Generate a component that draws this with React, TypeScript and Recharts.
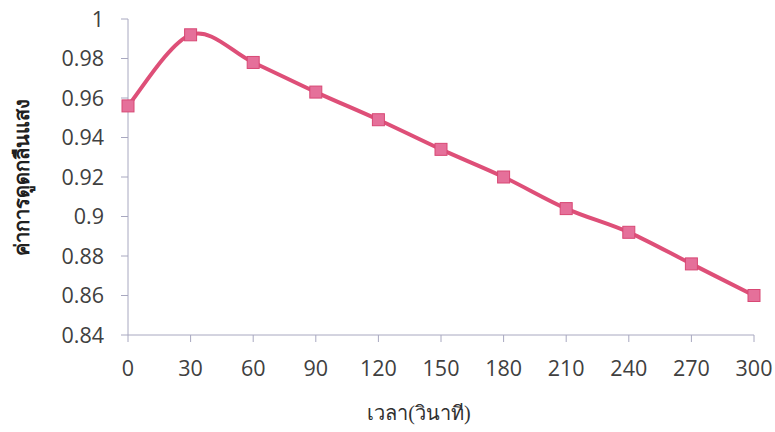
import React from "react";
import { LineChart, Line, XAxis, YAxis, Label } from "recharts";

const times = [0, 30, 60, 90, 120, 150, 180, 210, 240, 270, 300];
const absorbance = [0.956, 0.992, 0.978, 0.963, 0.949, 0.934, 0.92, 0.904, 0.892, 0.876, 0.86];
const xTicks = [0, 30, 60, 90, 120, 150, 180, 210, 240, 270, 300];
const yTicks = [0.84, 0.86, 0.88, 0.9, 0.92, 0.94, 0.96, 0.98, 1];

const data = times.map((t, i) => ({ t, v: absorbance[i] }));

const LINE = "#de4f78";

// Catmull-Rom style smoothing (like spreadsheet smoothed lines)
const smoothCurve: any = (context: any) => {
  let pts: number[][] = [];
  return {
    areaStart() {},
    areaEnd() {},
    lineStart() {
      pts = [];
    },
    point(x: number, y: number) {
      pts.push([+x, +y]);
    },
    lineEnd() {
      const n = pts.length;
      if (!n) return;
      context.moveTo(pts[0][0], pts[0][1]);
      for (let i = 0; i < n - 1; i++) {
        const p0 = pts[i - 1] || pts[i];
        const p1 = pts[i];
        const p2 = pts[i + 1];
        const p3 = pts[i + 2] || pts[i + 1];
        const c1x = p1[0] + (p2[0] - p0[0]) / 6;
        const c1y = p1[1] + (p2[1] - p0[1]) / 6;
        const c2x = p2[0] - (p3[0] - p1[0]) / 6;
        const c2y = p2[1] - (p3[1] - p1[1]) / 6;
        context.bezierCurveTo(c1x, c1y, c2x, c2y, p2[0], p2[1]);
      }
    },
  };
};

const SquareDot = (props: any) => {
  const { cx, cy } = props;
  if (cx == null || cy == null) return null;
  return <rect x={cx - 6} y={cy - 6} width={12} height={12} fill="#e5709a" stroke="#d84874" strokeWidth={1} />;
};

const fmtY = (v: number) => String(parseFloat(v.toFixed(2)));

export default function App() {
  const tickStyle = { fill: "#404040", fontSize: 21.5, fontFamily: "Open Sans, sans-serif" };
  return (
    <div style={{ position: "absolute", left: 0, top: 0, width: 775, height: 432, background: "#fff" }}>
      <LineChart width={775} height={432} data={data} margin={{ top: 19, right: 21, bottom: 0, left: 0 }}>
        <XAxis
          dataKey="t"
          type="number"
          domain={[0, 300]}
          ticks={xTicks}
          height={97}
          tickSize={7}
          tickMargin={19}
          stroke="#a8a8c0"
          tick={tickStyle}
          interval={0}
        >
          <Label
            value="เวลา(วินาที)"
            position="insideBottom"
            offset={12}
            dx={-22}
            style={{ fill: "#303030", fontSize: 20, fontFamily: "serif" }}
          />
        </XAxis>
        <YAxis
          type="number"
          domain={[0.84, 1]}
          ticks={yTicks}
          width={128}
          tickSize={7}
          tickMargin={17}
          stroke="#a8a8c0"
          tick={tickStyle}
          tickFormatter={fmtY}
          interval={0}
        >
          <Label
            value="ค่าการดูดกลืนแสง"
            angle={-90}
            position="insideLeft"
            offset={22}
            style={{ fill: "#202020", fontSize: 20, fontFamily: "serif", textAnchor: "middle", fontWeight: 600 }}
          />
        </YAxis>
        <Line
          dataKey="v"
          type={smoothCurve}
          stroke={LINE}
          strokeWidth={4}
          dot={<SquareDot />}
          activeDot={false}
          isAnimationActive={false}
        />
      </LineChart>
    </div>
  );
}
